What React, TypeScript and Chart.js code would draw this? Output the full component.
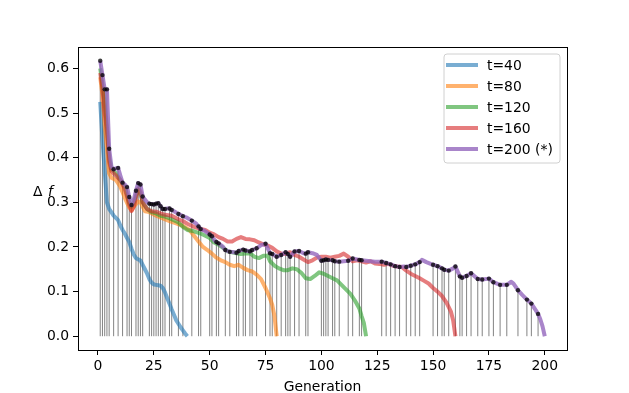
import React, { useEffect, useRef } from "react";
import { Chart, registerables } from "chart.js";
Chart.register(...registerables);

// ---- data ----
const xTicks = [0, 25, 50, 75, 100, 125, 150, 175, 200];
const yTicks = [0, 0.1, 0.2, 0.3, 0.4, 0.5, 0.6];
const labels = ["t=40", "t=80", "t=120", "t=160", "t=200 (*)"];
const colors = ["31,119,180", "255,127,14", "44,160,44", "214,39,40", "148,103,189"];
const alphas = [0.6, 0.6, 0.6, 0.6, 0.8];

const g40 = [1,2,3,4,5,6,7,8,9,10,11,12,13,14,15,16,17,18,19,20,21,22,23,24,25,26,27,28,29,30,31,32,33,34,35,36,37,38,39,40];
const v40 = [0.525,0.44,0.37,0.30,0.285,0.278,0.27,0.265,0.26,0.248,0.238,0.23,0.22,0.211,0.196,0.183,0.175,0.172,0.17,0.16,0.15,0.14,0.128,0.12,0.116,0.115,0.114,0.113,0.108,0.098,0.085,0.073,0.06,0.048,0.036,0.028,0.02,0.013,0.006,0.0];

const g80 = [1,2,3,4,5,6,8,10,12,14,15,16,18,19,21,23,26,29,32,35,38,41,43,45,47,49,51,53,55,57,59,61,63,65,67,69,71,73,75,77,78,79,80];
const v80 = [0.58,0.54,0.47,0.42,0.365,0.355,0.35,0.335,0.31,0.288,0.282,0.29,0.302,0.30,0.28,0.278,0.27,0.264,0.258,0.253,0.247,0.238,0.225,0.212,0.2,0.193,0.185,0.176,0.17,0.166,0.16,0.157,0.16,0.153,0.148,0.145,0.138,0.128,0.108,0.085,0.07,0.045,0.0];

const g120 = [1,2,3,4,5,6,8,10,12,14,15,16,18,19,20,22,24,26,28,30,33,36,38,40,43,46,48,50,52,54,56,58,60,62,64,66,68,70,72,74,76,77,79,81,83,85,87,89,91,93,95,97,99,101,103,105,107,109,111,113,115,117,118,119,120];
const v120 = [0.6,0.565,0.52,0.47,0.4,0.375,0.365,0.35,0.335,0.3,0.29,0.3,0.33,0.32,0.3,0.285,0.278,0.275,0.27,0.268,0.262,0.255,0.245,0.238,0.235,0.23,0.225,0.22,0.21,0.205,0.198,0.19,0.188,0.186,0.184,0.185,0.186,0.178,0.175,0.18,0.18,0.168,0.158,0.152,0.148,0.148,0.152,0.15,0.142,0.13,0.128,0.135,0.143,0.14,0.135,0.13,0.125,0.115,0.105,0.095,0.08,0.062,0.045,0.03,0.0];

const g160 = [1,2,3,4,5,6,7,8,10,12,14,15,16,18,19,20,22,24,26,28,30,33,36,38,40,43,46,48,50,52,54,56,58,60,62,64,66,68,70,72,74,76,78,80,82,84,86,88,90,92,94,96,98,100,102,104,106,108,110,112,114,116,118,120,122,124,126,128,130,132,134,136,138,140,142,144,146,148,150,152,154,156,158,159,160];
const v160 = [0.59,0.555,0.5,0.46,0.39,0.37,0.365,0.36,0.35,0.33,0.295,0.28,0.29,0.33,0.325,0.3,0.285,0.28,0.279,0.275,0.272,0.27,0.262,0.258,0.252,0.245,0.24,0.238,0.232,0.228,0.222,0.218,0.212,0.212,0.218,0.222,0.218,0.217,0.215,0.21,0.206,0.203,0.198,0.19,0.185,0.185,0.188,0.182,0.178,0.172,0.166,0.17,0.176,0.178,0.178,0.176,0.178,0.18,0.185,0.178,0.168,0.17,0.168,0.165,0.168,0.163,0.162,0.16,0.162,0.158,0.156,0.155,0.147,0.14,0.135,0.13,0.124,0.118,0.108,0.1,0.09,0.075,0.055,0.035,0.0];

const g200 = [1,2,3,4,5,6,7,8,9,10,11,12,13,14,15,16,17,18,19,20,21,22,23,24,25,26,27,28,29,30,31,32,33,34,36,38,40,42,44,45,46,48,50,51,52,53,54,56,57,59,61,62,63,65,66,68,69,71,73,75,77,78,80,82,84,85,86,88,90,92,93,94,96,98,100,101,102,103,105,106,108,110,112,114,116,117,118,120,122,124,127,129,131,133,135,137,138,140,142,144,145,147,150,152,154,155,157,159,160,162,163,165,167,170,172,175,177,180,183,185,186,188,190,192,194,196,197,198,199,200];
const v200 = [0.617,0.585,0.553,0.553,0.42,0.38,0.374,0.376,0.377,0.36,0.344,0.34,0.334,0.312,0.294,0.306,0.326,0.343,0.34,0.313,0.306,0.3,0.297,0.296,0.295,0.297,0.298,0.291,0.285,0.285,0.286,0.286,0.283,0.28,0.274,0.269,0.265,0.259,0.252,0.246,0.24,0.235,0.228,0.224,0.216,0.211,0.208,0.2,0.193,0.189,0.188,0.187,0.191,0.194,0.192,0.19,0.193,0.197,0.204,0.207,0.186,0.184,0.178,0.182,0.188,0.184,0.178,0.19,0.191,0.186,0.185,0.188,0.186,0.182,0.169,0.17,0.172,0.171,0.17,0.168,0.167,0.168,0.169,0.174,0.172,0.171,0.17,0.169,0.168,0.167,0.167,0.164,0.161,0.157,0.155,0.156,0.155,0.158,0.161,0.166,0.171,0.166,0.16,0.157,0.152,0.149,0.147,0.152,0.156,0.134,0.131,0.135,0.141,0.128,0.127,0.129,0.121,0.115,0.115,0.122,0.118,0.103,0.092,0.082,0.073,0.058,0.05,0.038,0.022,0.0];

const stemGens = [1,2,3,4,5,7,9,11,13,14,15,17,18,19,20,23,24,25,26,27,28,29,30,32,33,36,38,42,45,46,50,51,53,54,57,59,62,63,65,66,68,69,71,75,77,78,80,82,84,85,86,88,90,93,94,100,101,102,103,105,106,108,112,114,117,118,127,129,131,133,135,138,140,142,144,150,152,154,155,157,160,162,163,165,167,170,172,175,177,180,183,188,192,194,197];

const FONT = "DejaVu Sans";
const FS = 13.9;

const decor = {
  id: "decor",
  afterDraw(chart: any) {
    const { ctx, chartArea: a } = chart;
    ctx.save();
    ctx.strokeStyle = "#000";
    ctx.lineWidth = 1;
    const L = Math.round(a.left) + 0.5, T = Math.round(a.top) + 0.5;
    const R = Math.round(a.right) + 0.5, B = Math.round(a.bottom) + 0.5;
    ctx.strokeRect(L, T, R - L, B - T);
    ctx.fillStyle = "#000";
    ctx.font = `${FS}px ${FONT}`;
    ctx.textAlign = "center";
    ctx.textBaseline = "alphabetic";
    ctx.fillText("Generation", (a.left + a.right) / 2, 391);
    ctx.textAlign = "left";
    ctx.fillText("\u0394", 33, 196);
    ctx.font = `italic ${FS}px ${FONT}`;
    ctx.fillText("f", 48, 196);
    const lw = 116, lh = 109;
    const lx = a.right - 7 - lw, ly = a.top + 7;
    ctx.beginPath();
    const r = 3;
    ctx.moveTo(lx + r, ly);
    ctx.arcTo(lx + lw, ly, lx + lw, ly + lh, r);
    ctx.arcTo(lx + lw, ly + lh, lx, ly + lh, r);
    ctx.arcTo(lx, ly + lh, lx, ly, r);
    ctx.arcTo(lx, ly, lx + lw, ly, r);
    ctx.closePath();
    ctx.fillStyle = "rgba(255,255,255,0.8)";
    ctx.fill();
    ctx.strokeStyle = "#d0d0d0";
    ctx.lineWidth = 1;
    ctx.stroke();
    ctx.font = `${FS}px ${FONT}`;
    ctx.textBaseline = "middle";
    labels.forEach((lab, i) => {
      const y = ly + 11 + i * 21;
      ctx.strokeStyle = `rgba(${colors[i]},${alphas[i]})`;
      ctx.lineWidth = 4;
      ctx.beginPath();
      ctx.moveTo(lx + 2, y);
      ctx.lineTo(lx + 34, y);
      ctx.stroke();
      ctx.fillStyle = "#000";
      ctx.fillText(lab, lx + 43, y + 1);
    });
    ctx.restore();
  },
};

export default function App() {
  const ref = useRef<HTMLCanvasElement>(null);
  useEffect(() => {
    const toPts = (g: number[], v: number[]) => g.map((x, i) => ({ x, y: v[i] }));
    const gens = [g40, g80, g120, g160, g200];
    const vals = [v40, v80, v120, v160, v200];
    const lookup = (g: number) => v200[g200.indexOf(g)];
    const stemPts: any[] = [];
    stemGens.forEach((g) => {
      stemPts.push({ x: g, y: 0 }, { x: g, y: lookup(g) }, { x: g, y: null });
    });
    const dots = stemGens.map((g) => ({ x: g, y: lookup(g) }));
    const lineSets = gens.map((g, i) => ({
      label: labels[i],
      data: toPts(g, vals[i]),
      borderColor: `rgba(${colors[i]},${alphas[i]})`,
      borderWidth: 4,
      pointRadius: 0,
      order: 5 - i,
    }));
    const chart = new Chart(ref.current as HTMLCanvasElement, {
      type: "line",
      data: {
        datasets: [
          {
            label: "dots",
            data: dots,
            showLine: false,
            pointRadius: 2.2,
            pointBackgroundColor: "rgba(0,0,0,0.75)",
            pointBorderWidth: 0,
            order: 0,
          } as any,
          ...lineSets,
          {
            label: "stems",
            data: stemPts,
            borderColor: "rgba(100,100,100,0.8)",
            borderWidth: 1,
            pointRadius: 0,
            spanGaps: false,
            order: 10,
          },
        ],
      },
      options: {
        responsive: false,
        animation: false,
        events: [],
        plugins: { legend: { display: false }, tooltip: { enabled: false } },
        layout: { padding: { left: 0, right: 62, top: 47, bottom: 0 } },
        elements: { line: { tension: 0, borderJoinStyle: "round", borderCapStyle: "butt" } },
        scales: {
          x: {
            type: "linear",
            min: -8.95,
            max: 209.95,
            afterBuildTicks: (ax: any) => {
              ax.ticks = xTicks.map((v) => ({ value: v }));
            },
            afterFit: (s: any) => {
              s.height = 43;
            },
            grid: { drawOnChartArea: false, color: "#000", tickLength: 5, lineWidth: 1 },
            border: { display: false },
            ticks: {
              font: { family: FONT, size: FS },
              color: "#000",
              padding: 3,
              maxRotation: 0,
              autoSkip: false,
              callback: (v: any) => String(v),
            },
          },
          y: {
            type: "linear",
            min: -0.0309,
            max: 0.6479,
            afterBuildTicks: (ax: any) => {
              ax.ticks = yTicks.map((v) => ({ value: v }));
            },
            afterFit: (s: any) => {
              s.width = 78;
            },
            grid: { drawOnChartArea: false, color: "#000", tickLength: 5, lineWidth: 1 },
            border: { display: false },
            ticks: {
              font: { family: FONT, size: FS },
              color: "#000",
              padding: 4,
              autoSkip: false,
              callback: (v: any) => Number(v).toFixed(1),
            },
          },
        },
      },
      plugins: [decor],
    } as any);
    return () => chart.destroy();
  }, []);
  return (
    <div style={{ position: "fixed", left: 0, top: 0, width: 629, height: 393, background: "#fff" }}>
      <canvas ref={ref} width={629} height={393} />
    </div>
  );
}
